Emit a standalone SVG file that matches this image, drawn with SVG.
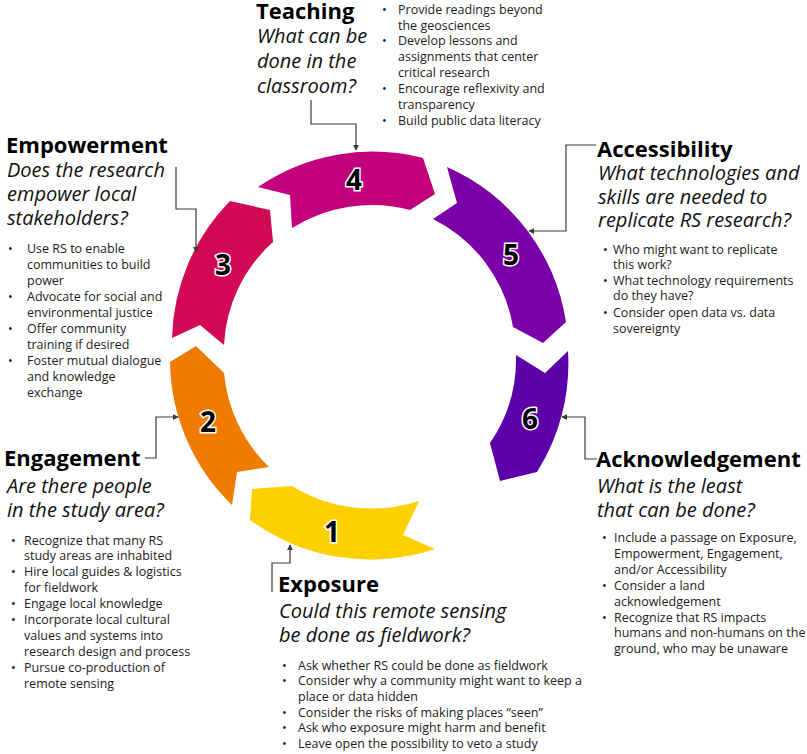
<svg xmlns="http://www.w3.org/2000/svg" width="807" height="754" viewBox="0 0 807 754">
  <style>
    text { font-family: "Open Sans", "Noto Sans", sans-serif; fill: #000; }
    .h { font-weight: 700; font-size: 22px; }
    .q { font-style: italic; font-size: 20px; fill: #111; }
    .b { font-size: 12.5px; fill: #1c1c1c; }
    .num { font-weight: 700; font-size: 28px; fill: #000; stroke: #fff; stroke-width: 3; paint-order: stroke; text-anchor: middle; }
    .link { fill: none; stroke: #3a3a3a; stroke-width: 1.2; marker-end: url(#arr); }
  </style>
  <defs>
    <marker id="arr" viewBox="0 0 8 8" refX="7" refY="4" markerWidth="6" markerHeight="6" markerUnits="userSpaceOnUse" orient="auto">
      <path d="M0,0 L8,4 L0,8 Z" fill="#3a3a3a"/>
    </marker>
  </defs>
  <rect width="807" height="754" fill="#fff"/>

  <!-- ring segments, clockwise from the bottom -->
  <g id="seg1">
    <path d="M435,549 A203,203 0 0 1 250,520 L252,489 L292,486 A152,152 0 0 0 419,501 L403,535 Z" fill="#FFD000"/>
    <text class="num" x="332" y="542">1</text>
  </g>
  <g id="seg2">
    <path d="M232,505 A203,203 0 0 1 170,362 L196,346 L224,373 A150,150 0 0 0 269,467 L237,472 Z" fill="#EF7B00"/>
    <text class="num" x="208" y="432">2</text>
  </g>
  <g id="seg3">
    <path d="M172,338 A203,203 0 0 1 230,201 L270,210 L273,242 A148,148 0 0 0 224,345 L200,325 Z" fill="#D20A55"/>
    <text class="num" x="223" y="275">3</text>
  </g>
  <g id="seg4">
    <path d="M258,187 A203,203 0 0 1 423,158 L435,194 L410,210 A150,150 0 0 0 292,228 L290,195 Z" fill="#C2007E"/>
    <text class="num" x="354" y="190">4</text>
  </g>
  <g id="seg5">
    <path d="M447,167 A203,203 0 0 1 566,322 L543,343 L513,327 A148,148 0 0 0 433,219 L457,203 Z" fill="#7A00A8"/>
    <text class="num" x="511" y="265">5</text>
  </g>
  <g id="seg6">
    <path d="M568,351 A203,203 0 0 1 537,472 L500,481 L490,443 A148,148 0 0 0 516,355 L545,373 Z" fill="#5C00AA"/>
    <text class="num" x="530" y="429">6</text>
  </g>

  <!-- callout leaders -->
  <g id="connectors">
    <path class="link" d="M311,100 V124 H356 V150"/>
    <path class="link" d="M176,167 V209 H196 V252"/>
    <path class="link" d="M596,145 H566 V231 H529"/>
    <path class="link" d="M597,459 H585 V417 H562"/>
    <path class="link" d="M145,458 H156 V417 H178"/>
    <path class="link" d="M272,592 V563 H290 V545"/>
  </g>

  <g id="teaching">
    <text class="h" x="256" y="19">Teaching</text>
    <text class="q" x="257" y="43">What can be</text>
    <text class="q" x="257" y="68">done in the</text>
    <text class="q" x="257" y="93">classroom?</text>
    <text class="b" x="382" y="14">•</text><text class="b" x="398" y="14">Provide readings beyond</text>
    <text class="b" x="398" y="29.5">the geosciences</text>
    <text class="b" x="382" y="45">•</text><text class="b" x="398" y="45">Develop lessons and</text>
    <text class="b" x="398" y="61">assignments that center</text>
    <text class="b" x="398" y="77">critical research</text>
    <text class="b" x="382" y="93">•</text><text class="b" x="398" y="93">Encourage reflexivity and</text>
    <text class="b" x="398" y="109">transparency</text>
    <text class="b" x="382" y="124.5">•</text><text class="b" x="398" y="124.5">Build public data literacy</text>
  </g>

  <g id="empowerment">
    <text class="h" x="6" y="153">Empowerment</text>
    <text class="q" x="7" y="177">Does the research</text>
    <text class="q" x="7" y="201">empower local</text>
    <text class="q" x="7" y="225">stakeholders?</text>
    <text class="b" x="8" y="252.5">•</text><text class="b" x="27" y="252.5">Use RS to enable</text>
    <text class="b" x="27" y="268.5">communities to build</text>
    <text class="b" x="27" y="284.5">power</text>
    <text class="b" x="8" y="300.5">•</text><text class="b" x="27" y="300.5">Advocate for social and</text>
    <text class="b" x="27" y="316.5">environmental justice</text>
    <text class="b" x="8" y="332.5">•</text><text class="b" x="27" y="332.5">Offer community</text>
    <text class="b" x="27" y="348.5">training if desired</text>
    <text class="b" x="8" y="364.5">•</text><text class="b" x="27" y="364.5">Foster mutual dialogue</text>
    <text class="b" x="27" y="380.5">and knowledge</text>
    <text class="b" x="27" y="396.5">exchange</text>
  </g>

  <g id="accessibility">
    <text class="h" x="597" y="157">Accessibility</text>
    <text class="q" x="598" y="180">What technologies and</text>
    <text class="q" x="598" y="203.5">skills are needed to</text>
    <text class="q" x="598" y="227">replicate RS research?</text>
    <text class="b" x="603" y="253.5">•</text><text class="b" x="613" y="253.5">Who might want to replicate</text>
    <text class="b" x="613" y="269">this work?</text>
    <text class="b" x="603" y="285">•</text><text class="b" x="613" y="285">What technology requirements</text>
    <text class="b" x="613" y="300">do they have?</text>
    <text class="b" x="603" y="316.5">•</text><text class="b" x="613" y="316.5">Consider open data vs. data</text>
    <text class="b" x="613" y="333">sovereignty</text>
  </g>

  <g id="engagement">
    <text class="h" x="4" y="466">Engagement</text>
    <text class="q" x="7" y="493">Are there people</text>
    <text class="q" x="7" y="517">in the study area?</text>
    <text class="b" x="11" y="544.5">•</text><text class="b" x="24" y="544.5">Recognize that many RS</text>
    <text class="b" x="24" y="560">study areas are inhabited</text>
    <text class="b" x="11" y="576">•</text><text class="b" x="24" y="576">Hire local guides &amp; logistics</text>
    <text class="b" x="24" y="591.5">for fieldwork</text>
    <text class="b" x="11" y="608">•</text><text class="b" x="24" y="608">Engage local knowledge</text>
    <text class="b" x="11" y="624">•</text><text class="b" x="24" y="624">Incorporate local cultural</text>
    <text class="b" x="24" y="639.5">values and systems into</text>
    <text class="b" x="24" y="655.5">research design and process</text>
    <text class="b" x="11" y="672">•</text><text class="b" x="24" y="672">Pursue co-production of</text>
    <text class="b" x="24" y="687.5">remote sensing</text>
  </g>

  <g id="exposure">
    <text class="h" x="278" y="592">Exposure</text>
    <text class="q" x="279" y="618">Could this remote sensing</text>
    <text class="q" x="279" y="642">be done as fieldwork?</text>
    <text class="b" x="282" y="669.5">•</text><text class="b" x="298" y="669.5">Ask whether RS could be done as fieldwork</text>
    <text class="b" x="282" y="684.5">•</text><text class="b" x="298" y="684.5">Consider why a community might want to keep a</text>
    <text class="b" x="298" y="700.5">place or data hidden</text>
    <text class="b" x="282" y="716.5">•</text><text class="b" x="298" y="716.5">Consider the risks of making places “seen”</text>
    <text class="b" x="282" y="732">•</text><text class="b" x="298" y="732">Ask who exposure might harm and benefit</text>
    <text class="b" x="282" y="748">•</text><text class="b" x="298" y="748">Leave open the possibility to veto a study</text>
  </g>

  <g id="acknowledgement">
    <text class="h" x="596" y="467">Acknowledgement</text>
    <text class="q" x="597" y="493">What is the least</text>
    <text class="q" x="597" y="517">that can be done?</text>
    <text class="b" x="602" y="541.5">•</text><text class="b" x="614" y="541.5">Include a passage on Exposure,</text>
    <text class="b" x="614" y="558">Empowerment, Engagement,</text>
    <text class="b" x="614" y="573.5">and/or Accessibility</text>
    <text class="b" x="602" y="590">•</text><text class="b" x="614" y="590">Consider a land</text>
    <text class="b" x="614" y="605.5">acknowledgement</text>
    <text class="b" x="602" y="621.5">•</text><text class="b" x="614" y="621.5">Recognize that RS impacts</text>
    <text class="b" x="614" y="637">humans and non-humans on the</text>
    <text class="b" x="614" y="653">ground, who may be unaware</text>
  </g>
</svg>
